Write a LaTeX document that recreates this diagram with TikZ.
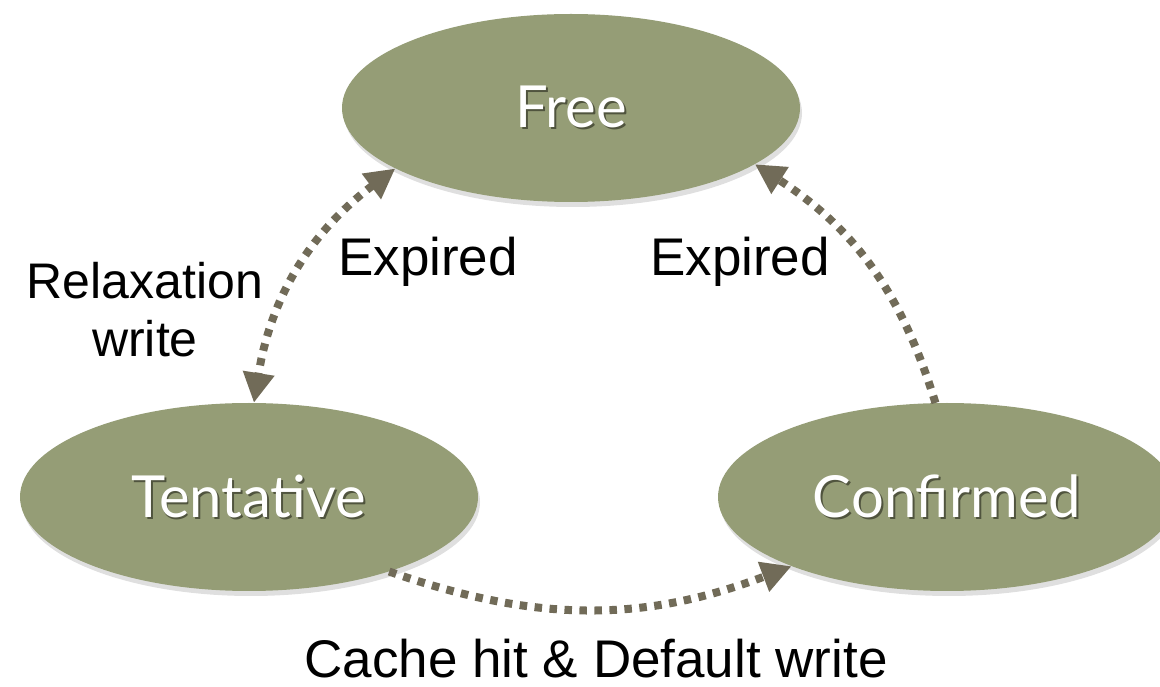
\documentclass[tikz,border=0pt]{standalone}
\usepackage{fontspec}
\setmainfont{Liberation Sans}
\newfontfamily\statefont{Lato}
\usetikzlibrary{shapes.geometric,arrows.meta,shadows}
\definecolor{statefill}{RGB}{149,157,118}
\definecolor{arrowc}{RGB}{113,107,88}
\definecolor{shadowc}{RGB}{80,84,62}
\newcommand\shadowedtext[1]{\leavevmode\rlap{\kern2pt\raisebox{-2pt}{\textcolor{shadowc}{#1}}}#1}
\tikzset{
  statenode/.style={ellipse, fill=statefill, minimum width=458pt, minimum height=188pt,
    inner sep=0pt, text=white, font=\statefont\fontsize{58}{60}\selectfont,
    drop shadow={opacity=0.25, shadow xshift=2pt, shadow yshift=-5pt}},
  conn/.style={draw=arrowc, line width=8pt, dash pattern=on 7.5pt off 7.5pt,
    line cap=butt},
  lbl/.style={text=black, font=\fontsize{50}{58}\selectfont, inner sep=0pt},
  biglbl/.style={lbl, font=\fontsize{53}{58}\selectfont}
}
\begin{document}
\begin{tikzpicture}[x=1pt,y=1pt]
\useasboundingbox (0,0) rectangle (1160,686);
\clip (0,0) rectangle (1160,686);
\node[statenode] (free) at (571,578) {\shadowedtext{Free}};
\node[statenode] (tent) at (249,189) {\shadowedtext{Tentative}};
\node[statenode] (conf) at (947,189) {\shadowedtext{Confirmed}};

\draw[conn, arrows={{Triangle[length=30pt,width=30pt]}-{Triangle[length=30pt,width=30pt]}}, arrowc]
  (free.199) to[bend right=22] (tent.87);
\draw[conn, arrows={-{Triangle[length=30pt,width=30pt]}}, arrowc]
  (conf.97) to[bend right=20] (free.343);
\draw[conn, arrows={-{Triangle[length=30pt,width=30pt]}}, arrowc]
  (tent.332) to[bend right=20] (conf.204);

\node[lbl, align=center] (relax) at (145,376) {Relaxation\\write};
\node[biglbl, anchor=base] (exp1) at (428,410) {Expired};
\node[biglbl, anchor=base] (exp2) at (740,410) {Expired};
\node[biglbl, anchor=base] (cache) at (596,9) {Cache hit \& Default write};
\end{tikzpicture}
\end{document}
